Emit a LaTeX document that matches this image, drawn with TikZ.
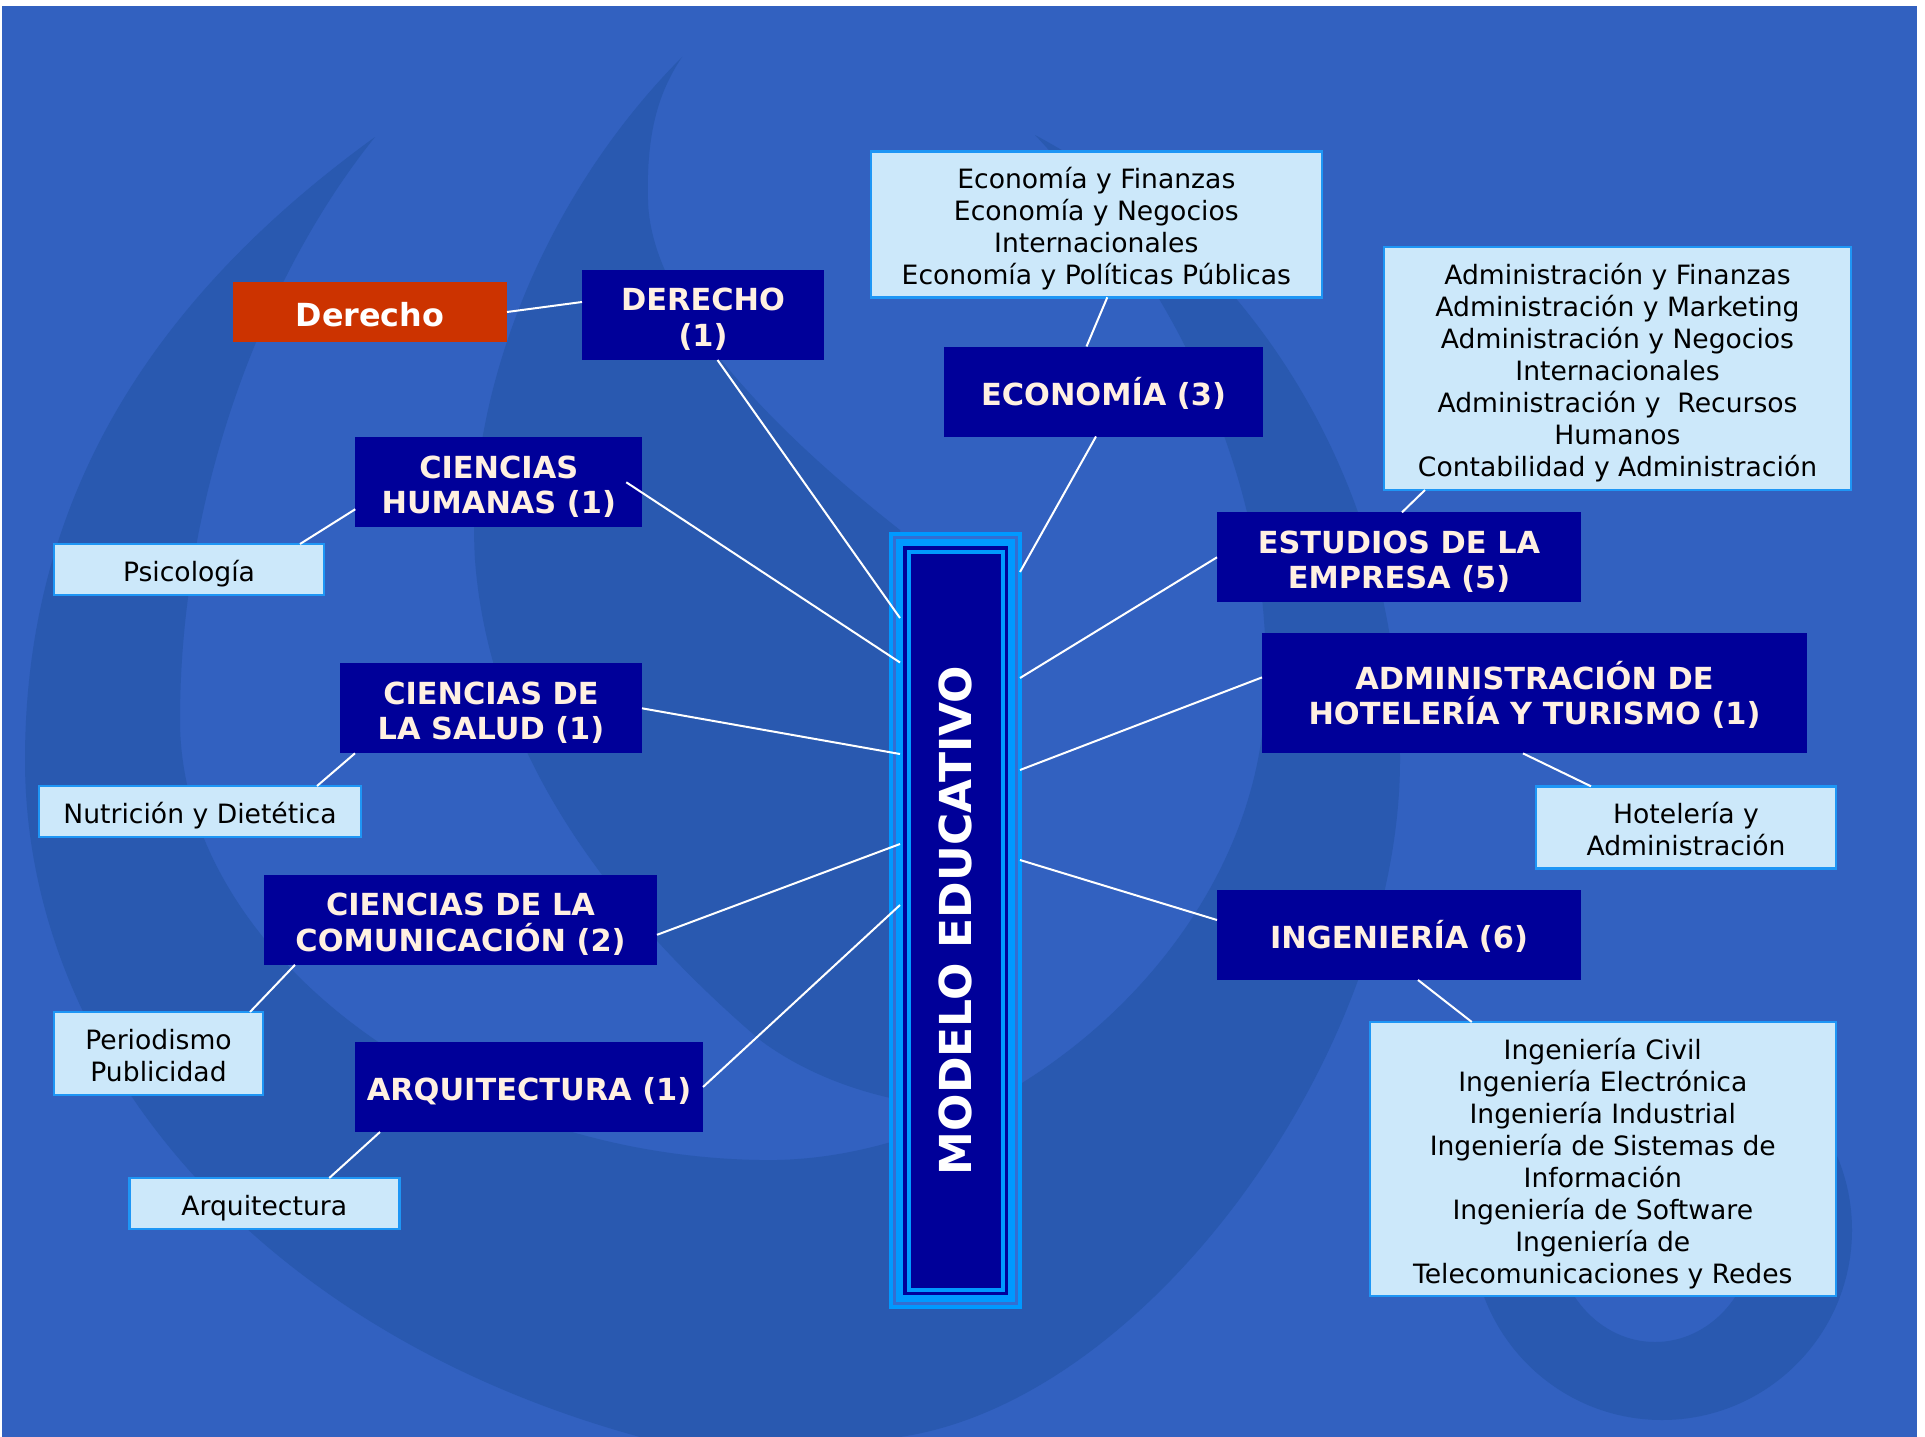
\documentclass[tikz,border=0pt]{standalone}
\usepackage{fontspec}
\setmainfont{DejaVu Sans}
\usetikzlibrary{calc}
\definecolor{bgblue}{RGB}{50,97,192}
\definecolor{swirl}{RGB}{41,89,176}
\definecolor{navy}{RGB}{0,0,153}
\definecolor{lbfill}{RGB}{204,232,250}
\definecolor{lbborder}{RGB}{30,150,245}
\definecolor{brightblue}{RGB}{0,153,255}
\definecolor{midblue}{RGB}{51,110,210}
\definecolor{redbox}{RGB}{204,51,0}
\definecolor{cream}{RGB}{255,240,225}
\begin{document}
\begin{tikzpicture}[x=1pt,y=-1pt,
  darkbox/.style={fill=navy, text=cream, inner sep=0pt, outer sep=0pt, align=center,
    font=\bfseries\fontsize{30.4}{35.6}\selectfont, text height=27.2pt, text depth=0pt},
  dlines/.style={text height={(#1-1)*35.6pt+27.2pt}},
  lightbox/.style={fill=lbfill, draw=lbborder, line width=2.5pt, text=black, inner sep=0pt,
    outer sep=0pt, align=center, font=\fontsize{26.6}{32}\selectfont, text height=24.4pt, text depth=0pt},
  llines/.style={text height={(#1-1)*32pt+24.4pt}},
  redstyle/.style={fill=redbox, text=white, inner sep=0pt, outer sep=0pt,
    font=\bfseries\fontsize{31.8}{36}\selectfont, text height=28.2pt, text depth=0pt},
  link/.style={draw=white, line width=2pt},
]
\useasboundingbox (0,0) rectangle (1925,1437);
\fill[white] (0,0) rectangle (1925,1437);
\fill[bgblue] (1.5,6) rectangle (1917,1437);
% background swirls
\begin{scope}
\clip (1.5,6) rectangle (1917,1437);
\fill[swirl] (375,137) .. controls (150,300) and (25,500) .. (25,760)
  .. controls (25,1050) and (250,1330) .. (640,1437) -- (900,1437)
  .. controls (1150,1400) and (1400,1050) .. (1400,760)
  .. controls (1400,480) and (1250,250) .. (1035,135)
  .. controls (1190,300) and (1275,500) .. (1265,700)
  .. controls (1255,950) and (1000,1165) .. (760,1160)
  .. controls (450,1155) and (180,950) .. (180,720)
  .. controls (180,500) and (260,280) .. (375,137) -- cycle;
\fill[swirl] (682,57) .. controls (540,200) and (465,400) .. (475,560)
  .. controls (490,760) and (620,920) .. (760,1040)
  .. controls (800,1070) and (850,1090) .. (900,1100)
  -- (900,530) .. controls (760,420) and (650,300) .. (648,200)
  .. controls (646,130) and (660,90) .. (682,57) -- cycle;
\fill[swirl, even odd rule] (1662,1230) ellipse [x radius=190, y radius=190]
  (1655,1230) ellipse [x radius=100, y radius=112];
\end{scope}

% central node
\node[minimum width=133, minimum height=777, inner sep=0pt, outer sep=0pt] (mod) at (955.5,920.5) {};
\fill[brightblue] (mod.north west) rectangle (mod.south east);
\fill[midblue] ($(mod.north west)+(4,4)$) rectangle ($(mod.south east)+(-4,-4)$);
\fill[brightblue] ($(mod.north west)+(7,7)$) rectangle ($(mod.south east)+(-7,-7)$);
\fill[navy] ($(mod.north west)+(14,14)$) rectangle ($(mod.south east)+(-14,-14)$);
\fill[brightblue] ($(mod.north west)+(17.5,17.5)$) rectangle ($(mod.south east)+(-17.5,-17.5)$);
\fill[navy] ($(mod.north west)+(21.5,21.5)$) rectangle ($(mod.south east)+(-21.5,-21.5)$);
\node[rotate=90, text=white, inner sep=0pt, text height=32pt, text depth=0pt,
  font=\bfseries\fontsize{44}{50}\selectfont] (modtxt) at (mod.center) {MODELO EDUCATIVO};

% left side
\node[redstyle, minimum width=274, minimum height=60] (red) at (370,312) {Derecho};
\node[darkbox, dlines=2, minimum width=242, minimum height=90] (der) at (703,315) {DERECHO\\(1)};
\node[darkbox, dlines=2, minimum width=287, minimum height=90] (hum) at (498.75,482.25) {CIENCIAS\\HUMANAS (1)};
\node[lightbox, minimum width=270, minimum height=51] (psi) at (189,569.5) {Psicología};
\node[darkbox, dlines=2, minimum width=302, minimum height=90] (sal) at (491,708.3) {CIENCIAS DE\\LA SALUD (1)};
\node[lightbox, minimum width=322, minimum height=51] (nut) at (200,811.5) {Nutrición y Dietética};
\node[darkbox, dlines=2, minimum width=393, minimum height=90] (com) at (460.5,919.8) {CIENCIAS DE LA\\COMUNICACIÓN (2)};
\node[lightbox, llines=2, minimum width=209, minimum height=83] (per) at (158.5,1053.5) {Periodismo\\Publicidad};
\node[darkbox, minimum width=348, minimum height=90] (arq) at (529,1087) {ARQUITECTURA (1)};
\node[lightbox, minimum width=270, minimum height=51] (arql) at (264.25,1203.5) {Arquitectura};

% right side
\node[lightbox, llines=4, minimum width=451, minimum height=146] (ecol) at (1096.3,224.3) {Economía y Finanzas\\Economía y Negocios\\Internacionales\\Economía y Políticas Públicas};
\node[darkbox, minimum width=319, minimum height=90] (eco) at (1103.5,391.5) {ECONOMÍA (3)};
\node[lightbox, llines=7, minimum width=467, minimum height=243] (adml) at (1617.5,368.5) {Administración y Finanzas\\Administración y Marketing\\Administración y Negocios\\Internacionales\\Administración y\ \ Recursos\\Humanos\\Contabilidad y Administración};
\node[darkbox, dlines=2, minimum width=364, minimum height=90] (est) at (1399,557.3) {ESTUDIOS DE LA\\EMPRESA (5)};
\node[darkbox, dlines=2, minimum width=545, minimum height=120] (hot) at (1534.5,693.4) {ADMINISTRACIÓN DE\\HOTELERÍA Y TURISMO (1)};
\node[lightbox, llines=2, minimum width=300, minimum height=82] (hotl) at (1686,827.3) {Hotelería y\\Administración};
\node[darkbox, minimum width=364, minimum height=90] (ing) at (1399,935) {INGENIERÍA (6)};
\node[lightbox, llines=8, minimum width=466, minimum height=274] (ingl) at (1602.8,1159) {Ingeniería Civil\\Ingeniería Electrónica\\Ingeniería Industrial\\Ingeniería de Sistemas de\\Información\\Ingeniería de Software\\Ingeniería de\\Telecomunicaciones y Redes};

% connectors
\draw[link] (red.east) -- ($(der.west)+(0,-13)$);
\draw[link] ($(der.south)+(14.5,0)$) -- ($(mod.north west)+(11,86)$);
\draw[link] ($(hum.east)+(-16,0)$) -- ($(mod.north west)+(11,130.5)$);
\draw[link] ($(hum.west)+(0,27)$) -- ($(psi.north)+(111,0)$);
\draw[link] (sal.east) -- ($(mod.north west)+(11,222)$);
\draw[link] ($(sal.south west)+(15,0)$) -- ($(nut.north east)+(-44,0)$);
\draw[link] ($(com.east)+(0,15)$) -- ($(mod.north west)+(11,312)$);
\draw[link] ($(com.south west)+(31,0)$) -- ($(per.north east)+(-13,0)$);
\draw[link] (arq.east) -- ($(mod.north west)+(11,373)$);
\draw[link] ($(arq.south west)+(25,0)$) -- ($(arql.north east)+(-70,0)$);
\draw[link] ($(ecol.south)+(11,0)$) -- ($(eco.north)+(-17,0)$);
\draw[link] ($(eco.south)+(-7.5,0)$) -- ($(mod.north east)+(-2,40)$);
\draw[link] ($(adml.south west)+(41,0)$) -- ($(est.north)+(3,0)$);
\draw[link] (est.west) -- ($(mod.north east)+(-2,146)$);
\draw[link] ($(hot.west)+(0,-16)$) -- ($(mod.north east)+(-2,238)$);
\draw[link] ($(hot.south)+(-11.5,0)$) -- ($(hotl.north west)+(55,0)$);
\draw[link] ($(ing.west)+(0,-15)$) -- ($(mod.north east)+(-2,328)$);
\draw[link] ($(ing.south)+(19,0)$) -- ($(ingl.north west)+(102,0)$);
\end{tikzpicture}
\end{document}
